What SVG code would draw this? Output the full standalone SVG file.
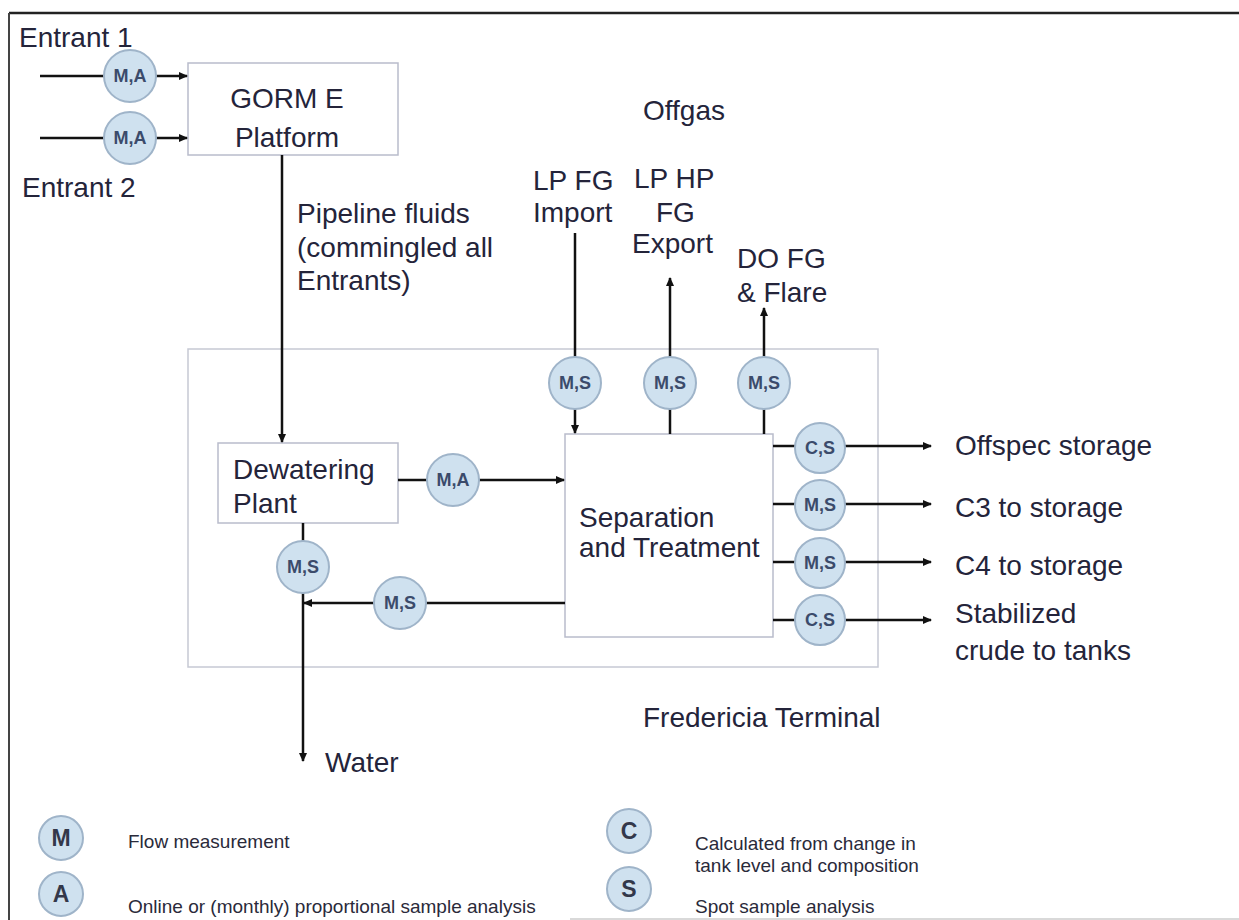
<svg xmlns="http://www.w3.org/2000/svg" width="1239" height="920" viewBox="0 0 1239 920">
<style>
.lbl{font-family:"Liberation Sans",Arial,sans-serif;font-size:28px;fill:#24243a}
.leg{font-family:"Liberation Sans",Arial,sans-serif;font-size:19px;fill:#2a2a3a}
.box{fill:#fff;stroke:#b9bccb;stroke-width:1.5}
.area{fill:none;stroke:#c6c9d4;stroke-width:1.5}
.cir{fill:#cfe1ef;stroke:#9fb4c9;stroke-width:2}
.ct{font-family:"Liberation Sans",Arial,sans-serif;font-size:18px;font-weight:bold;fill:#3b4b6b;text-anchor:middle}
.lt{font-family:"Liberation Sans",Arial,sans-serif;font-size:23px;font-weight:bold;fill:#33384a;text-anchor:middle}
.ln{fill:none;stroke:#111;stroke-width:2.5}
</style>
<defs>
<marker id="ah" markerWidth="10" markerHeight="10" refX="8" refY="4" orient="auto" markerUnits="userSpaceOnUse">
<path d="M0,0 L9,4 L0,8 Z" fill="#111"/>
</marker>
</defs>
<rect width="1239" height="920" fill="#fff"/>
<g id="frame">
<line x1="9" y1="13" x2="1239" y2="13" stroke="#222" stroke-width="2.5"/>
<line x1="9" y1="13" x2="9" y2="920" stroke="#444" stroke-width="2"/>
<line x1="570" y1="919" x2="1239" y2="919" stroke="#ccc" stroke-width="1.5"/>
</g>
<g id="fredericia">
<rect class="area" x="188" y="349" width="690" height="318"/>
<text class="lbl" x="643" y="727">Fredericia Terminal</text>
</g>
<g id="gorm">
<rect class="box" x="188" y="63" width="210" height="92"/>
<text class="lbl" x="287" y="108" text-anchor="middle">GORM E</text>
<text class="lbl" x="287" y="147" text-anchor="middle">Platform</text>
</g>
<g id="dewatering">
<rect class="box" x="218" y="443" width="180" height="80"/>
<text class="lbl" x="233" y="479">Dewatering</text>
<text class="lbl" x="233" y="513">Plant</text>
</g>
<g id="separation">
<rect class="box" x="565" y="434" width="208" height="203"/>
<text class="lbl" x="579" y="527">Separation</text>
<text class="lbl" x="579" y="557">and Treatment</text>
</g>
<g id="connectors">
<path class="ln" d="M40,76 H104"/><path class="ln" d="M156,76 H187" marker-end="url(#ah)"/>
<path class="ln" d="M40,138 H104"/><path class="ln" d="M156,138 H187" marker-end="url(#ah)"/>
<path class="ln" d="M282,155 V442" marker-end="url(#ah)"/>
<path class="ln" d="M398,480 H427"/><path class="ln" d="M479,480 H564" marker-end="url(#ah)"/>
<path class="ln" d="M575,233 V357" stroke-width="3.5"/><path class="ln" d="M575,409 V433" marker-end="url(#ah)"/>
<path class="ln" d="M670,434 V409"/><path class="ln" d="M670,357 V278" marker-end="url(#ah)"/>
<path class="ln" d="M764,434 V409"/><path class="ln" d="M764,357 V308" marker-end="url(#ah)"/>
<path class="ln" d="M773,446 H795"/><path class="ln" d="M845,446 H931" marker-end="url(#ah)"/>
<path class="ln" d="M773,504 H795"/><path class="ln" d="M845,504 H931" marker-end="url(#ah)"/>
<path class="ln" d="M773,562 H795"/><path class="ln" d="M845,562 H931" marker-end="url(#ah)"/>
<path class="ln" d="M773,620 H795"/><path class="ln" d="M845,620 H931" marker-end="url(#ah)"/>
<path class="ln" d="M303,523 V541"/><path class="ln" d="M303,593 V761" marker-end="url(#ah)"/>
<path class="ln" d="M565,603 H426"/><path class="ln" d="M374,603 H304" marker-end="url(#ah)"/>
</g>
<g id="m-entrant1"><circle class="cir" cx="130" cy="76" r="26"/><text class="ct" x="130" y="82">M,A</text></g>
<g id="m-entrant2"><circle class="cir" cx="130" cy="138" r="26"/><text class="ct" x="130" y="144">M,A</text></g>
<g id="m-dew-sep"><circle class="cir" cx="453" cy="480" r="26"/><text class="ct" x="453" y="486">M,A</text></g>
<g id="m-import"><circle class="cir" cx="575" cy="383" r="26"/><text class="ct" x="575" y="389">M,S</text></g>
<g id="m-export"><circle class="cir" cx="670" cy="383" r="26"/><text class="ct" x="670" y="389">M,S</text></g>
<g id="m-flare"><circle class="cir" cx="764" cy="383" r="26"/><text class="ct" x="764" y="389">M,S</text></g>
<g id="m-offspec"><circle class="cir" cx="820" cy="448" r="25"/><text class="ct" x="820" y="454">C,S</text></g>
<g id="m-c3"><circle class="cir" cx="820" cy="505" r="25"/><text class="ct" x="820" y="511">M,S</text></g>
<g id="m-c4"><circle class="cir" cx="820" cy="563" r="25"/><text class="ct" x="820" y="569">M,S</text></g>
<g id="m-crude"><circle class="cir" cx="820" cy="620" r="25"/><text class="ct" x="820" y="626">C,S</text></g>
<g id="m-water"><circle class="cir" cx="303" cy="567" r="26"/><text class="ct" x="303" y="573">M,S</text></g>
<g id="m-return"><circle class="cir" cx="400" cy="603" r="26"/><text class="ct" x="400" y="609">M,S</text></g>
<g id="labels">
<text class="lbl" x="19" y="47">Entrant 1</text>
<text class="lbl" x="22" y="197">Entrant 2</text>
<text class="lbl" x="643" y="120">Offgas</text>
<text class="lbl" x="297" y="223">Pipeline fluids</text>
<text class="lbl" x="297" y="257">(commingled all</text>
<text class="lbl" x="297" y="290">Entrants)</text>
<text class="lbl" x="533" y="190">LP FG</text>
<text class="lbl" x="533" y="222">Import</text>
<text class="lbl" x="634" y="188">LP HP</text>
<text class="lbl" x="656" y="222">FG</text>
<text class="lbl" x="632" y="253">Export</text>
<text class="lbl" x="737" y="268">DO FG</text>
<text class="lbl" x="737" y="302">&amp; Flare</text>
<text class="lbl" x="955" y="455">Offspec storage</text>
<text class="lbl" x="955" y="517">C3 to storage</text>
<text class="lbl" x="955" y="575">C4 to storage</text>
<text class="lbl" x="955" y="623">Stabilized</text>
<text class="lbl" x="955" y="660">crude to tanks</text>
<text class="lbl" x="325" y="772">Water</text>
</g>
<g id="legend">
<circle class="cir" cx="61" cy="838" r="22"/><text class="lt" x="61" y="846">M</text>
<circle class="cir" cx="61" cy="894" r="22"/><text class="lt" x="61" y="902">A</text>
<circle class="cir" cx="629" cy="831" r="22"/><text class="lt" x="629" y="839">C</text>
<circle class="cir" cx="629" cy="889" r="22"/><text class="lt" x="629" y="897">S</text>
<text class="leg" x="128" y="848">Flow measurement</text>
<text class="leg" x="128" y="913">Online or (monthly) proportional sample analysis</text>
<text class="leg" x="695" y="850">Calculated from change in</text>
<text class="leg" x="695" y="872">tank level and composition</text>
<text class="leg" x="695" y="913">Spot sample analysis</text>
</g>
</svg>
